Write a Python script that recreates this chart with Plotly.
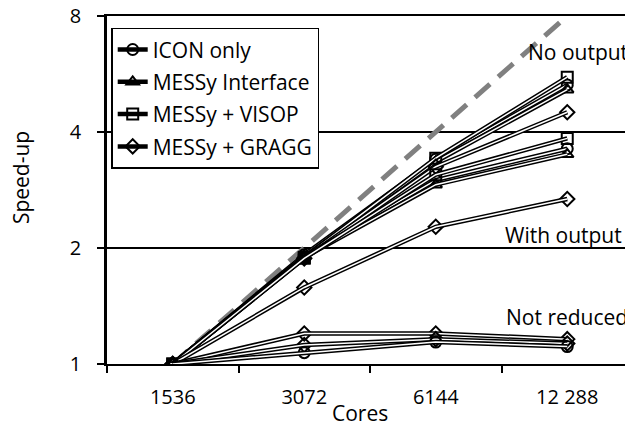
import math
import plotly.graph_objs as go

# ---- data
cores = ['1536', '3072', '6144', '12 288']
ideal = [1, 2, 4, 8]

# no output
icon_no = [1, 1.92, 3.40, 5.30]
iface_no = [1, 1.90, 3.35, 5.15]
visop_no = [1, 1.89, 3.42, 5.55]
gragg_no = [1, 1.88, 3.25, 4.50]

# with output
icon_wo = [1, 1.90, 3.00, 3.62]
iface_wo = [1, 1.89, 2.92, 3.50]
visop_wo = [1, 1.88, 3.10, 3.85]
gragg_wo = [1, 1.58, 2.27, 2.68]

# not reduced
nr_a = [1, 1.20, 1.20, 1.16]
nr_b = [1, 1.12, 1.16, 1.13]
nr_c = [1, 1.07, 1.14, 1.11]

FONT = 'Open Sans'
names = ['ICON only', 'MESSy Interface', 'MESSy + VISOP', 'MESSy + GRAGG']
symbols = ['circle-open', 'triangle-up-open', 'square-open', 'diamond-open']

series = [
    (icon_no, 0, True), (iface_no, 1, True), (visop_no, 2, True), (gragg_no, 3, True),
    (icon_wo, 0, False), (iface_wo, 1, False), (visop_wo, 2, False), (gragg_wo, 3, False),
    (nr_a, 3, False), (nr_b, 3, False), (nr_c, 0, False),
]

fig = go.Figure()

# ideal speed-up
fig.add_trace(go.Scatter(x=cores, y=ideal, mode='lines', showlegend=False,
                         line=dict(color='#808080', width=5, dash='20px,11px')))

for vals, k, leg in series:
    # double line look: wide black line with a thin white line on top
    fig.add_trace(go.Scatter(
        x=cores, y=vals, mode='lines+markers', name=names[k],
        showlegend=leg, legendgroup=names[k] if leg else None,
        line=dict(color='black', width=4.5),
        marker=dict(symbol=symbols[k], size=11, color='black',
                    line=dict(color='black', width=2))))
    fig.add_trace(go.Scatter(x=cores, y=vals, mode='lines', showlegend=False,
                             hoverinfo='skip', line=dict(color='white', width=1.5)))

# ellipses round the groups at 12 288 cores
shapes = [
    dict(type='circle', xref='x', yref='y', x0=2.84, x1=3.16,
         y0=math.log10(4.17), y1=math.log10(6.11), line=dict(color='black', width=1.5)),
    dict(type='circle', xref='x', yref='y', x0=2.84, x1=3.16,
         y0=math.log10(2.34), y1=math.log10(4.14), line=dict(color='black', width=1.5)),
]

annotations = [
    dict(text='No output', x=3.08, y=math.log10(6.45), xref='x', yref='y', showarrow=False),
    dict(text='With output', x=2.97, y=math.log10(2.16), xref='x', yref='y', showarrow=False),
    dict(text='Not reduced', x=3.0, y=math.log10(1.324), xref='x', yref='y', showarrow=False),
    dict(text='Cores', x=0.481, y=-0.14, xref='paper', yref='paper', showarrow=False,
         yanchor='middle'),
    dict(text='Speed-up', x=-0.1635, y=0.537, xref='paper', yref='paper', showarrow=False,
         textangle=-90, xanchor='center', yanchor='middle'),
]

# the page body adds an 8px offset, so margins are shifted by 8px
fig.update_layout(
    width=633, height=426,
    margin=dict(l=99, r=8, t=8, b=70),
    paper_bgcolor='white', plot_bgcolor='white',
    font=dict(family=FONT, size=21, color='black'),
    shapes=shapes, annotations=annotations,
    legend=dict(x=0.008, y=0.966, xanchor='left', yanchor='top',
                bgcolor='white', bordercolor='black', borderwidth=1.5,
                tracegroupgap=2, font=dict(size=21)),
    xaxis=dict(type='category', range=[-0.5, 3.5], tickson='boundaries',
               automargin=False, mirror=True,
               showline=True, linecolor='black', linewidth=2,
               ticks='outside', ticklen=7, tickwidth=2, tickcolor='black',
               showgrid=False, ticklabelstandoff=14, tickfont=dict(size=20)),
    yaxis=dict(type='log', range=[0, math.log10(8)], tickvals=[1, 2, 4, 8],
               ticktext=['1', '2', '4', '8'], automargin=False,
               ticklabeloverflow='allow',
               showline=True, linecolor='black', linewidth=2.5,
               ticks='outside', ticklen=7, tickwidth=2, tickcolor='black',
               showgrid=True, gridcolor='black', gridwidth=1.5,
               ticklabelstandoff=12, tickfont=dict(size=20)),
)

fig.write_html("out.html")
